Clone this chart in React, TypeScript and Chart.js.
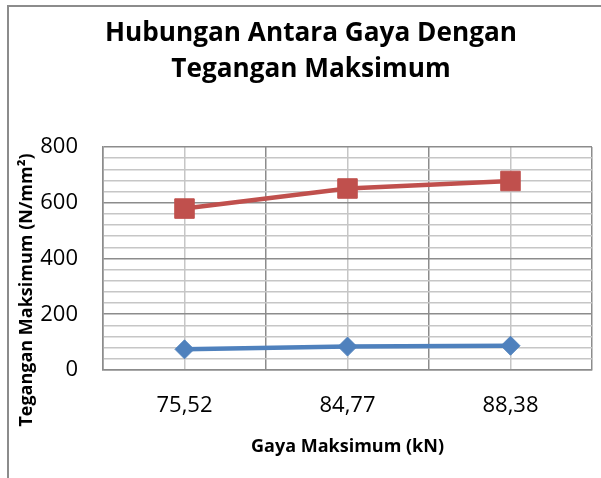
import React, { useEffect, useRef } from 'react';
import { Chart, registerables } from 'chart.js';

Chart.register(...registerables);

const categories = ['75,52', '84,77', '88,38'];
const seriesBlue = [74, 84, 87];
const seriesRed = [579, 651, 678];
const yMin = 0;
const yMax = 800;
const yMajorStep = 200;
const yMinorStep = 40;
const titleLines = ['Hubungan Antara Gaya Dengan', 'Tegangan Maksimum'];
const xTitle = 'Gaya Maksimum (kN)';
const yTitle = 'Tegangan Maksimum (N/mm²)';

const FONT = '"Open Sans", "Liberation Sans", sans-serif';
const MAJOR = '#8c8c8c';
const MINOR = '#c6c6c6';
const BLUE = '#4f81bd';
const RED = '#c0504d';

const framePlugin = {
  id: 'frame',
  beforeDraw(chart: any) {
    const { ctx, width, height } = chart;
    ctx.save();
    ctx.fillStyle = '#ffffff';
    ctx.fillRect(0, 0, width, height);
    ctx.strokeStyle = '#8c8c8c';
    ctx.lineWidth = 2;
    ctx.strokeRect(8, 6, width + 50, height + 50);
    ctx.restore();
  },
  afterDraw(chart: any) {
    const { ctx } = chart;
    ctx.save();
    ctx.translate(27, 290);
    ctx.rotate(-Math.PI / 2);
    ctx.font = `bold 18px ${FONT}`;
    ctx.fillStyle = '#000';
    ctx.textAlign = 'center';
    ctx.textBaseline = 'middle';
    ctx.fillText(yTitle, 0, 0);
    ctx.restore();
  },
};

export default function App() {
  const ref = useRef<HTMLCanvasElement | null>(null);

  useEffect(() => {
    if (!ref.current) return;
    const chart = new Chart(ref.current, {
      type: 'line',
      data: {
        labels: categories,
        datasets: [
          {
            label: 'Series1',
            data: seriesBlue,
            borderColor: BLUE,
            backgroundColor: BLUE,
            borderWidth: 4.5,
            pointStyle: 'rectRot',
            pointRadius: 9.5,
            pointBorderWidth: 1,
            pointBackgroundColor: BLUE,
            pointBorderColor: BLUE,
            tension: 0,
          },
          {
            label: 'Series2',
            data: seriesRed,
            borderColor: RED,
            backgroundColor: RED,
            borderWidth: 4.5,
            pointStyle: 'rect',
            pointRadius: 13.8,
            pointBorderWidth: 1,
            pointBackgroundColor: RED,
            pointBorderColor: RED,
            tension: 0,
          },
        ],
      },
      options: {
        animation: false,
        responsive: false,
        maintainAspectRatio: false,
        layout: { autoPadding: false, padding: { left: 30, right: 9, top: 0, bottom: 0 } },
        plugins: {
          legend: { display: false },
          tooltip: { enabled: false },
          title: {
            display: true,
            text: titleLines,
            color: '#000',
            font: { family: FONT, size: 26.2, weight: 'bold', lineHeight: 1.4 },
            padding: { top: 15, bottom: 58.6 },
          },
        },
        scales: {
          x: {
            type: 'category',
            offset: true,
            grid: { offset: true, color: MAJOR, lineWidth: 1.5, drawTicks: false },
            border: { display: true, color: MAJOR, width: 1.5 },
            ticks: { color: '#000', font: { family: FONT, size: 22 }, padding: 23, maxRotation: 0 },
            title: {
              display: true,
              text: xTitle,
              color: '#000',
              font: { family: FONT, size: 18, weight: 'bold', lineHeight: 1.2 },
              padding: { top: 0, bottom: 20 },
            },
            afterFit: (s: any) => {
              s.height = 108;
              s.paddingLeft = 0;
              s.paddingRight = 0;
            },
          },
          x2: {
            type: 'category',
            position: 'bottom',
            offset: true,
            grid: { offset: false, color: MINOR, lineWidth: 1.5, drawTicks: false },
            border: { display: false },
            ticks: { display: false },
            afterFit: (s: any) => {
              s.height = 0;
              s.paddingLeft = 0;
              s.paddingRight = 0;
            },
          },
          y: {
            type: 'linear',
            min: yMin,
            max: yMax,
            grid: {
              color: (c: any) => (c.tick && c.tick.value % yMajorStep === 0 ? MAJOR : MINOR),
              lineWidth: 1.5,
              drawTicks: false,
            },
            border: { display: true, color: MAJOR, width: 1.5 },
            ticks: {
              stepSize: yMinorStep,
              autoSkip: false,
              color: '#000',
              font: { family: FONT, size: 22 },
              padding: 25,
              callback: (v: any) => (Number(v) % yMajorStep === 0 ? String(v) : ''),
            },
            afterFit: (s: any) => {
              s.width = 73;
            },
          },
        },
      },
      plugins: [framePlugin],
    });
    return () => chart.destroy();
  }, []);

  return (
    <div style={{ position: 'absolute', left: 0, top: 0, width: 601, height: 478 }}>
      <canvas ref={ref} width={601} height={478} />
    </div>
  );
}
